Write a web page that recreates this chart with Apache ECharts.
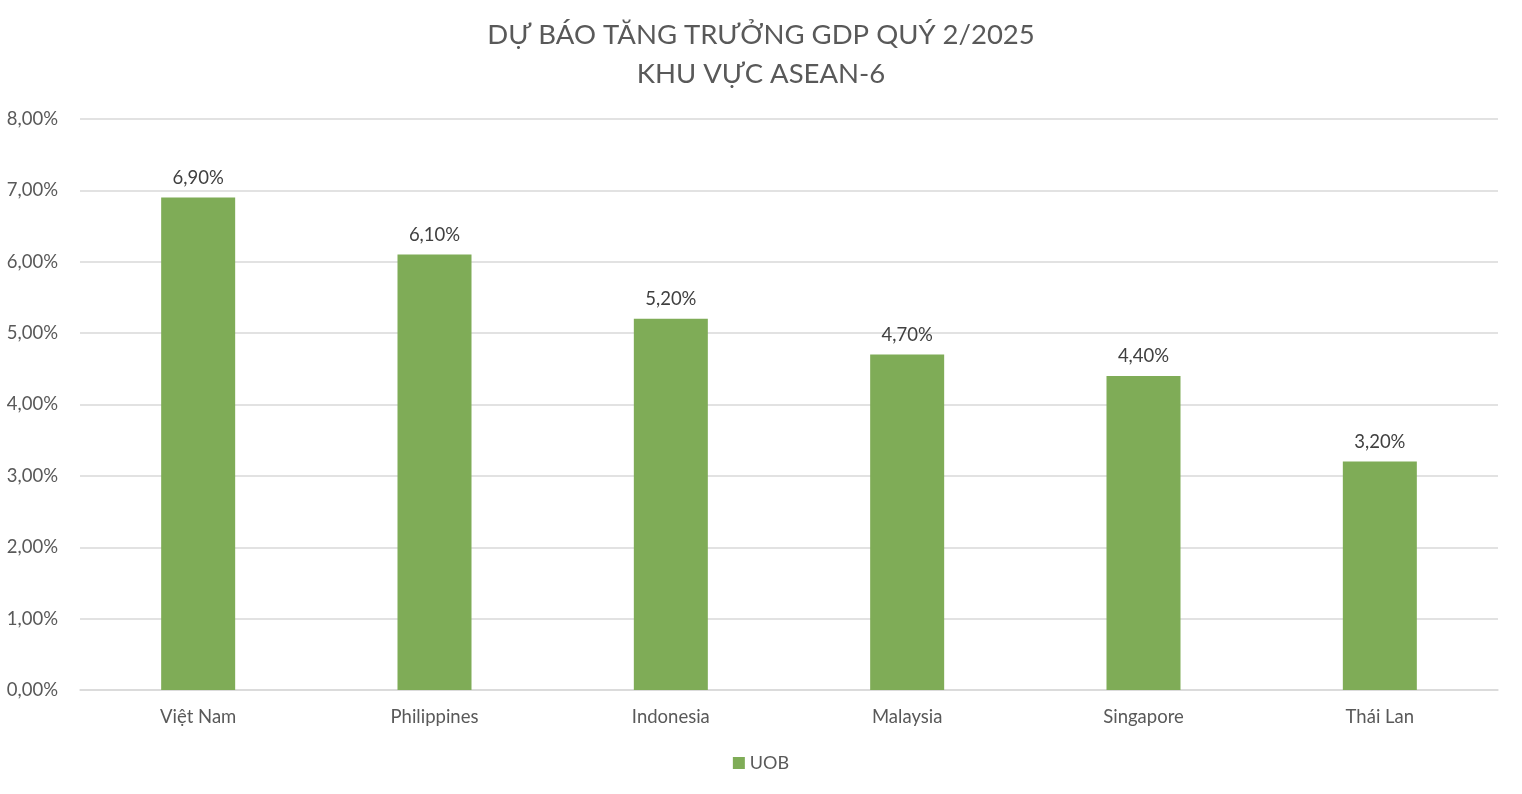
<!DOCTYPE html>
<html><head><meta charset="utf-8">
<script src="https://cdn.jsdelivr.net/npm/echarts@6/dist/echarts.min.js"></script>
<style>html,body{margin:0;padding:0;background:#fff}#c{width:1522px;height:794px}</style>
</head><body><div id="c"></div>
<script>
const categories = ['Việt Nam','Philippines','Indonesia','Malaysia','Singapore','Thái Lan'];
const uobValues = [6.9, 6.1, 5.2, 4.7, 4.4, 3.2];
const seriesName = 'UOB';
const fmt = v => v.toFixed(2).replace('.', ',') + '%';
const FONT = 'Lato';
const chart = echarts.init(document.getElementById('c'));
chart.setOption({
  backgroundColor: '#fff',
  animation: false,
  title: {
    text: 'DỰ BÁO TĂNG TRƯỞNG GDP QUÝ 2/2025\nKHU VỰC ASEAN-6',
    left: 'center', top: 11,
    textStyle: { fontFamily: FONT, fontSize: 27.5, fontWeight: 'normal', color: '#595959', lineHeight: 39 }
  },
  legend: {
    bottom: 17, left: 'center', itemWidth: 12, itemHeight: 12, icon: 'rect',
    textStyle: { fontFamily: FONT, fontSize: 18, color: '#595959' },
    data: [seriesName]
  },
  grid: { left: 80, right: 24, top: 119, bottom: 104, containLabel: false },
  xAxis: {
    type: 'category', data: categories,
    axisLine: { lineStyle: { color: '#d9d9d9', width: 1.5 } },
    axisTick: { show: false },
    axisLabel: { fontFamily: FONT, fontSize: 18.5, color: '#595959', margin: 18 }
  },
  yAxis: {
    type: 'value', min: 0, max: 8, interval: 1,
    axisLine: { show: false }, axisTick: { show: false },
    splitLine: { lineStyle: { color: '#d9d9d9', width: 1.5 } },
    axisLabel: { fontFamily: FONT, fontSize: 18.5, color: '#595959', margin: 22, formatter: v => fmt(v) }
  },
  series: [{
    name: seriesName, type: 'bar', data: uobValues, barWidth: 74,
    itemStyle: { color: '#7FAC57' },
    label: { show: true, position: 'top', distance: 10, fontFamily: FONT, fontSize: 18.5, color: '#404040', formatter: p => fmt(p.value) }
  }]
});
</script></body></html>
